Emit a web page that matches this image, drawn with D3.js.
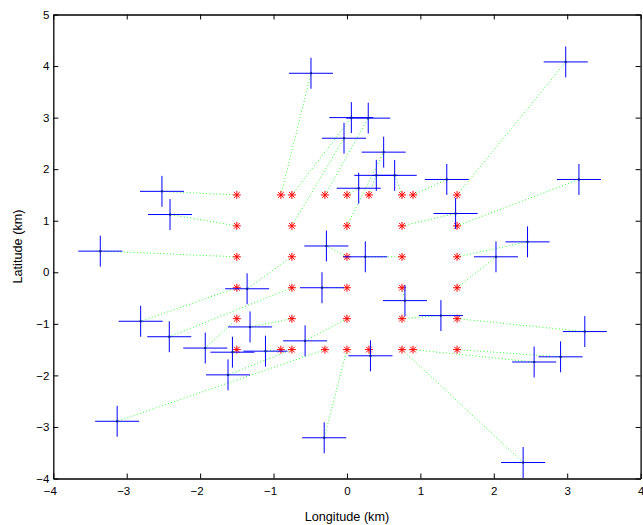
<!DOCTYPE html>
<html>
<head>
<meta charset="utf-8">
<script src="https://cdn.jsdelivr.net/npm/d3@7"></script>
<style>
  html, body { margin: 0; padding: 0; background: #fff; }
  svg { display: block; }
  .axis text { font-family: "Liberation Sans", Arial, Helvetica, sans-serif; font-size: 11.5px; fill: #000; }
  .axis path, .axis line { stroke: #000; }
  .lbl { font-family: "Liberation Sans", Arial, Helvetica, sans-serif; font-size: 12.7px; fill: #000; }
</style>
</head>
<body>
<script>
// Station grid (red asterisks), km
const stationLon = [-1.5, -0.9, -0.75, -0.3, 0, 0.3, 0.75, 0.9, 1.5,
                    -1.5, -0.75, 0, 0.75, 1.5,
                    -1.5, -0.75, 0, 0.75, 1.5,
                    -1.5, -0.75, 0, 0.75, 1.5,
                    -1.5, -0.75, 0, 0.75, 1.5,
                    -1.5, -0.9, -0.75, -0.3, 0, 0.3, 0.75, 0.9, 1.5];
const stationLat = [1.5, 1.5, 1.5, 1.5, 1.5, 1.5, 1.5, 1.5, 1.5,
                    0.9, 0.9, 0.9, 0.9, 0.9,
                    0.3, 0.3, 0.3, 0.3, 0.3,
                    -0.3, -0.3, -0.3, -0.3, -0.3,
                    -0.9, -0.9, -0.9, -0.9, -0.9,
                    -1.5, -1.5, -1.5, -1.5, -1.5, -1.5, -1.5, -1.5, -1.5];
// Estimated locations (blue crosses), same order as stations
const estLon = [-2.52, -0.49, 0.06, 0.29, 0.16, 0.40, 0.65, 1.36, 2.98,
                -2.41, -0.04, 0.50, 1.48, 3.16,
                -3.36, -1.36, -0.28, 0.25, 2.46,
                -2.81, -2.42, -0.34, 0.79, 2.03,
                -1.93, -1.32, -0.57, 1.28, 3.24,
                -1.56, -1.11, -1.62, -3.13, -0.31, 0.32, 2.40, 2.55, 2.91];
const estLat = [1.57, 3.86, 3.00, 2.99, 1.63, 1.88, 1.88, 1.80, 4.08,
                1.12, 2.60, 2.33, 1.14, 1.80,
                0.41, -0.32, 0.51, 0.30, 0.59,
                -0.95, -1.25, -0.30, -0.55, 0.30,
                -1.47, -1.06, -1.33, -0.84, -1.15,
                -1.55, -1.53, -1.99, -2.89, -3.21, -1.62, -3.69, -1.74, -1.64];
// Error bar half-widths (km)
const errLon = estLon.map(() => 0.3);
const errLat = estLat.map(() => 0.3);
// Ticks
const xTicks = [-4, -3, -2, -1, 0, 1, 2, 3, 4];
const yTicks = [-4, -3, -2, -1, 0, 1, 2, 3, 4, 5];
const xLabel = "Longitude (km)";
const yLabel = "Latitude (km)";

const W = 643, H = 525;
const svg = d3.select("body").append("svg").attr("width", W).attr("height", H);

const x = d3.scaleLinear().domain([-4, 4]).range([53.3, 640.6]);
const y = d3.scaleLinear().domain([-4, 5]).range([478.5, 14.5]);

const data = stationLon.map((d, i) => ({
  sx: d, sy: stationLat[i], ex: estLon[i], ey: estLat[i], dx: errLon[i], dy: errLat[i]
}));

// dotted connectors
svg.append("g").selectAll("line").data(data).join("line")
  .attr("x1", d => x(d.sx)).attr("y1", d => y(d.sy))
  .attr("x2", d => x(d.ex)).attr("y2", d => y(d.ey))
  .attr("stroke", "#33ff33").attr("stroke-width", 1)
  .attr("stroke-dasharray", "1,2.3");

// red asterisks
const r = 4, a = r * 0.72;
const star = `M${-r},0L${r},0M0,${-r}L0,${r}M${-a},${-a}L${a},${a}M${-a},${a}L${a},${-a}`;
svg.append("g").selectAll("path").data(data).join("path")
  .attr("transform", d => `translate(${x(d.sx)},${y(d.sy)})`)
  .attr("d", star).attr("stroke", "#ff0000").attr("stroke-width", 1).attr("fill", "none");

// blue crosses (error bars)
const cg = svg.append("g").attr("stroke", "#0000ff").attr("stroke-width", 1);
cg.selectAll("line.h").data(data).join("line").attr("class", "h")
  .attr("x1", d => x(d.ex - d.dx)).attr("x2", d => x(d.ex + d.dx))
  .attr("y1", d => y(d.ey)).attr("y2", d => y(d.ey));
cg.selectAll("line.v").data(data).join("line").attr("class", "v")
  .attr("x1", d => x(d.ex)).attr("x2", d => x(d.ex))
  .attr("y1", d => y(d.ey - d.dy)).attr("y2", d => y(d.ey + d.dy));
svg.append("g").selectAll("rect").data(data).join("rect")
  .attr("x", d => x(d.ex) - 1).attr("y", d => y(d.ey) - 1)
  .attr("width", 2).attr("height", 2).attr("fill", "#00208a");

// axes
const fmt = d3.format("d");
const gB = svg.append("g").attr("class", "axis").attr("transform", `translate(0,${y(-4)})`)
  .call(d3.axisBottom(x).tickValues(xTicks).tickFormat(fmt).tickSizeInner(-5).tickSizeOuter(0).tickPadding(8));
gB.selectAll("text").attr("dx", d => d < 0 ? -3.5 : 0);
svg.append("g").attr("class", "axis").attr("transform", `translate(${x(-4)},0)`)
  .call(d3.axisLeft(y).tickValues(yTicks).tickFormat(fmt).tickSizeInner(-5).tickSizeOuter(0).tickPadding(4));
svg.append("g").attr("class", "axis").attr("transform", `translate(0,${y(5)})`)
  .call(d3.axisTop(x).tickValues(xTicks).tickFormat(() => "").tickSizeInner(-5).tickSizeOuter(0));
svg.append("g").attr("class", "axis").attr("transform", `translate(${x(4)},0)`)
  .call(d3.axisRight(y).tickValues(yTicks).tickFormat(() => "").tickSizeInner(-5).tickSizeOuter(0));
svg.selectAll(".axis .domain").attr("stroke-width", 1.3);

svg.append("text").attr("class", "lbl").attr("x", x(0)).attr("y", 521)
  .attr("text-anchor", "middle").text(xLabel);
svg.append("text").attr("class", "lbl")
  .attr("transform", `translate(22,${y(0.5)}) rotate(-90)`)
  .attr("text-anchor", "middle").text(yLabel);
</script>
</body>
</html>
